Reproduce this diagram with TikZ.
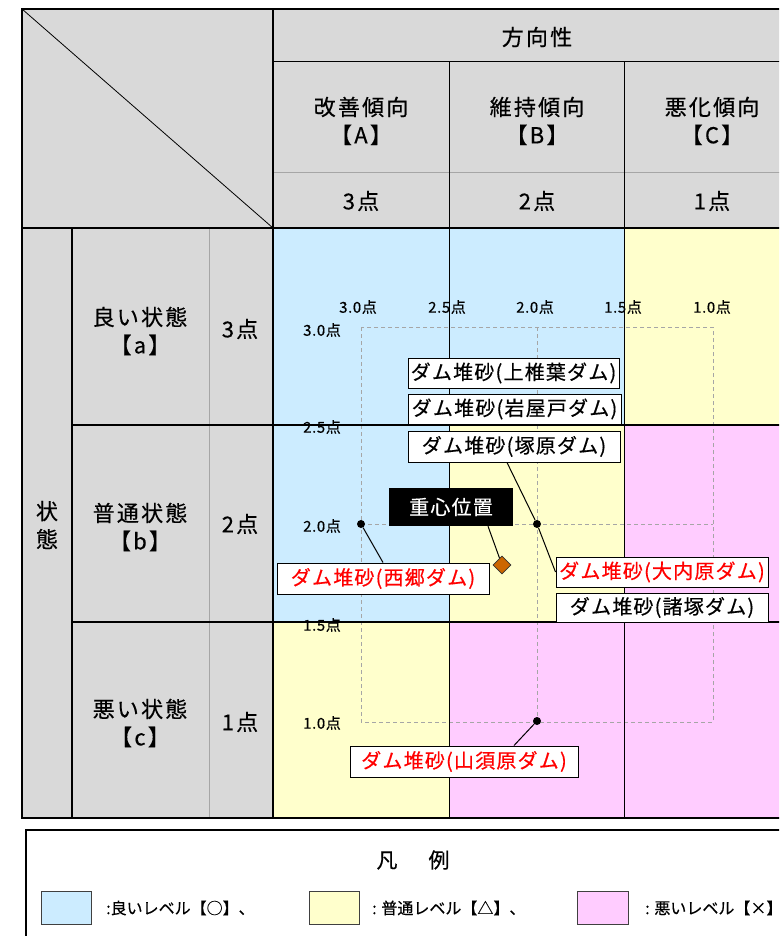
\documentclass[tikz,border=0pt]{standalone}
\usepackage{fontspec}
\setmainfont{Noto Sans CJK JP}[FakeBold=0.4]
\newfontfamily\jpA[LetterSpace=10, FakeBold=0.4]{Noto Sans CJK JP}
\newfontfamily\jpB[LetterSpace=6, FakeBold=0.4]{Noto Sans CJK JP}
\newfontfamily\jpC[LetterSpace=4, FakeBold=0.4]{Noto Sans CJK JP}
\usetikzlibrary{shapes.geometric}
\definecolor{hdrgray}{HTML}{D9D9D9}
\definecolor{cblue}{HTML}{CCECFF}
\definecolor{cyellow}{HTML}{FFFFCC}
\definecolor{cpink}{HTML}{FFCCFF}
\definecolor{sepgray}{HTML}{A6A6A6}
\definecolor{gridgray}{HTML}{A6A6A6}
\definecolor{cgorange}{HTML}{CC6600}
\definecolor{lblred}{HTML}{FF0000}
\begin{document}
\begin{tikzpicture}[x=1pt,y=-1pt,
  hdrtext/.style={font=\jpA\fontsize{22}{28}\selectfont, align=center, inner sep=0pt},
  axlbl/.style={font=\jpC\fontsize{15}{18}\selectfont, inner sep=0pt},
  dambox/.style={draw=black, line width=1pt, fill=white, minimum width=211pt, minimum height=30pt, inner sep=0pt, font=\jpB\fontsize{20}{24}\selectfont},
  redlbl/.style={text=lblred},
  ptdot/.style={circle, fill=black, inner sep=0pt, minimum size=8pt},
  thickrule/.style={line width=2.4pt},
  thinrule/.style={line width=1pt},
  chartgrid/.style={draw=gridgray, dash pattern=on 4pt off 3pt, line width=1pt},
  legendsq/.style={draw=black!75, line width=1pt, minimum width=50pt, minimum height=33pt, inner sep=0pt},
  legtext/.style={font=\fontsize{16}{20}\selectfont, anchor=west, inner sep=0pt},
  leader/.style={line width=1pt, draw=black}
]
\useasboundingbox (0,0) rectangle (779,936);
\clip (0,0) rectangle (779,936);
\fill[white] (0,0) rectangle (779,936);

% ---- fills
\fill[hdrgray] (22,9) rectangle (800,228);
\fill[hdrgray] (22,228) rectangle (273,818);
\fill[cblue]   (273,228) rectangle (449,425);
\fill[cblue]   (449,228) rectangle (624,425);
\fill[cyellow] (624,228) rectangle (800,425);
\fill[cblue]   (273,425) rectangle (449,622);
\fill[cyellow] (449,425) rectangle (624,622);
\fill[cpink]   (624,425) rectangle (800,622);
\fill[cyellow] (273,622) rectangle (449,818);
\fill[cpink]   (449,622) rectangle (624,818);
\fill[cpink]   (624,622) rectangle (800,818);

% ---- chart dashed grid
\draw[chartgrid] (361,327) rectangle (713,722);
\draw[chartgrid] (537,327) -- (537,722);
\draw[chartgrid] (361,524) -- (713,524);

% ---- table lines
\draw[line width=0.8pt] (22,9) -- (273,228);
\draw[thinrule] (273,62) -- (800,62);
\draw[sepgray, thinrule] (273,173) -- (800,173);
\draw[thinrule] (449,62) -- (449,818);
\draw[thinrule] (624,62) -- (624,818);
\draw[sepgray, thinrule] (209,228) -- (209,818);
\draw[line width=1.2pt] (72,425) -- (800,425);
\draw[line width=1.6pt] (72,622) -- (800,622);
\draw[line width=1.8pt] (72,228) -- (72,818);
\draw[thickrule] (273,9) -- (273,818);
\draw[thickrule] (22,228) -- (800,228);
\draw[thickrule] (22,9) rectangle (800,818);

% ---- header texts
\node[hdrtext] (hdir) at (537,37) {方向性};
\node[hdrtext] (hA) at (361,121) {改善傾向\\【A】};
\node[hdrtext] (hB) at (537,121) {維持傾向\\【B】};
\node[hdrtext] (hC) at (712,121) {悪化傾向\\【C】};
\node[hdrtext] (sA) at (361,201) {3点};
\node[hdrtext] (sB) at (537,201) {2点};
\node[hdrtext] (sC) at (712,201) {1点};
\node[hdrtext] (vstate) at (47,525) {状\\態};
\node[hdrtext] (ra) at (140,331) {良い状態\\【a】};
\node[hdrtext] (rb) at (140,527) {普通状態\\【b】};
\node[hdrtext] (rc) at (140,723) {悪い状態\\【c】};
\node[hdrtext] (pa) at (240,329) {3点};
\node[hdrtext] (pb) at (240,524) {2点};
\node[hdrtext] (pc) at (240,722) {1点};

% ---- axis labels
\node[axlbl] (x30) at (358,307) {3.0点};
\node[axlbl] (x25) at (447,307) {2.5点};
\node[axlbl] (x20) at (535,307) {2.0点};
\node[axlbl] (x15) at (623,307) {1.5点};
\node[axlbl] (x10) at (712,307) {1.0点};
\node[axlbl] (y30) at (322,330) {3.0点};
\node[axlbl] (y25) at (322,427) {2.5点};
\node[axlbl] (y20) at (322,526) {2.0点};
\node[axlbl] (y15) at (322,625) {1.5点};
\node[axlbl] (y10) at (322,723) {1.0点};

% ---- data points
\node[ptdot] (dSaigo) at (361,524) {};
\node[ptdot] (dMid) at (537,524) {};
\node[ptdot] (dYama) at (537,721) {};
\node[diamond, aspect=1, fill=cgorange, draw=black!80, line width=0.8pt, minimum size=18pt, inner sep=0pt] (cg) at (502,565) {};

% ---- boxes
\node[dambox] (bKami) at (513.5,373) {ダム堆砂(上椎葉ダム)};
\node[dambox, minimum width=213pt] (bIwa) at (514.5,409) {ダム堆砂(岩屋戸ダム)};
\node[dambox, minimum width=212pt, minimum height=31pt] (bTsuka) at (514,446.5) {ダム堆砂(塚原ダム)};
\node[dambox, minimum width=212pt, minimum height=29pt] (bMoro) at (662,607.5) {ダム堆砂(諸塚ダム)};
\node[dambox, redlbl, minimum width=212pt, minimum height=31pt] (bSaigo) at (383,578.5) {ダム堆砂(西郷ダム)};
\node[dambox, redlbl, minimum width=212pt] (bOuchi) at (662,572) {ダム堆砂(大内原ダム)};
\node[dambox, redlbl, minimum width=228pt, minimum height=31pt] (bYama) at (464,761.5) {ダム堆砂(山須原ダム)};
\node[fill=black, text=white, minimum width=124pt, minimum height=38pt, inner sep=0pt, font=\jpB\fontsize{20}{24}\selectfont] (bCG) at (451,507) {重心位置};

% ---- leaders
\draw[leader] (dSaigo) -- (bSaigo.north);
\draw[leader] ([xshift=-7pt]bTsuka.south) -- (dMid);
\draw[leader] (dMid) -- (bOuchi.west);
\draw[leader] ([xshift=37pt]bCG.south) -- (cg);
\draw[leader] (dYama) -- ([xshift=50pt]bYama.north);

% ---- legend
\draw[line width=1.5pt] (26,830) rectangle (800,960);
\node[font=\fontsize{21}{25}\selectfont, inner sep=0pt] (legtitle) at (413,860) {凡\hspace{31pt}例};
\node[legendsq, fill=cblue] (lsq1) at (66.5,907.5) {};
\node[legendsq, fill=cyellow] (lsq2) at (334,907.5) {};
\node[legendsq, fill=cpink, minimum width=51pt] (lsq3) at (602.5,907.5) {};
\node[legtext] (lt1) at (106,908) {:良いレベル【○】、};
\node[legtext] (lt2) at (372,908) {: 普通レベル【△】、};
\node[legtext] (lt3) at (645,908) {: 悪いレベル【×】};
\end{tikzpicture}
\end{document}
